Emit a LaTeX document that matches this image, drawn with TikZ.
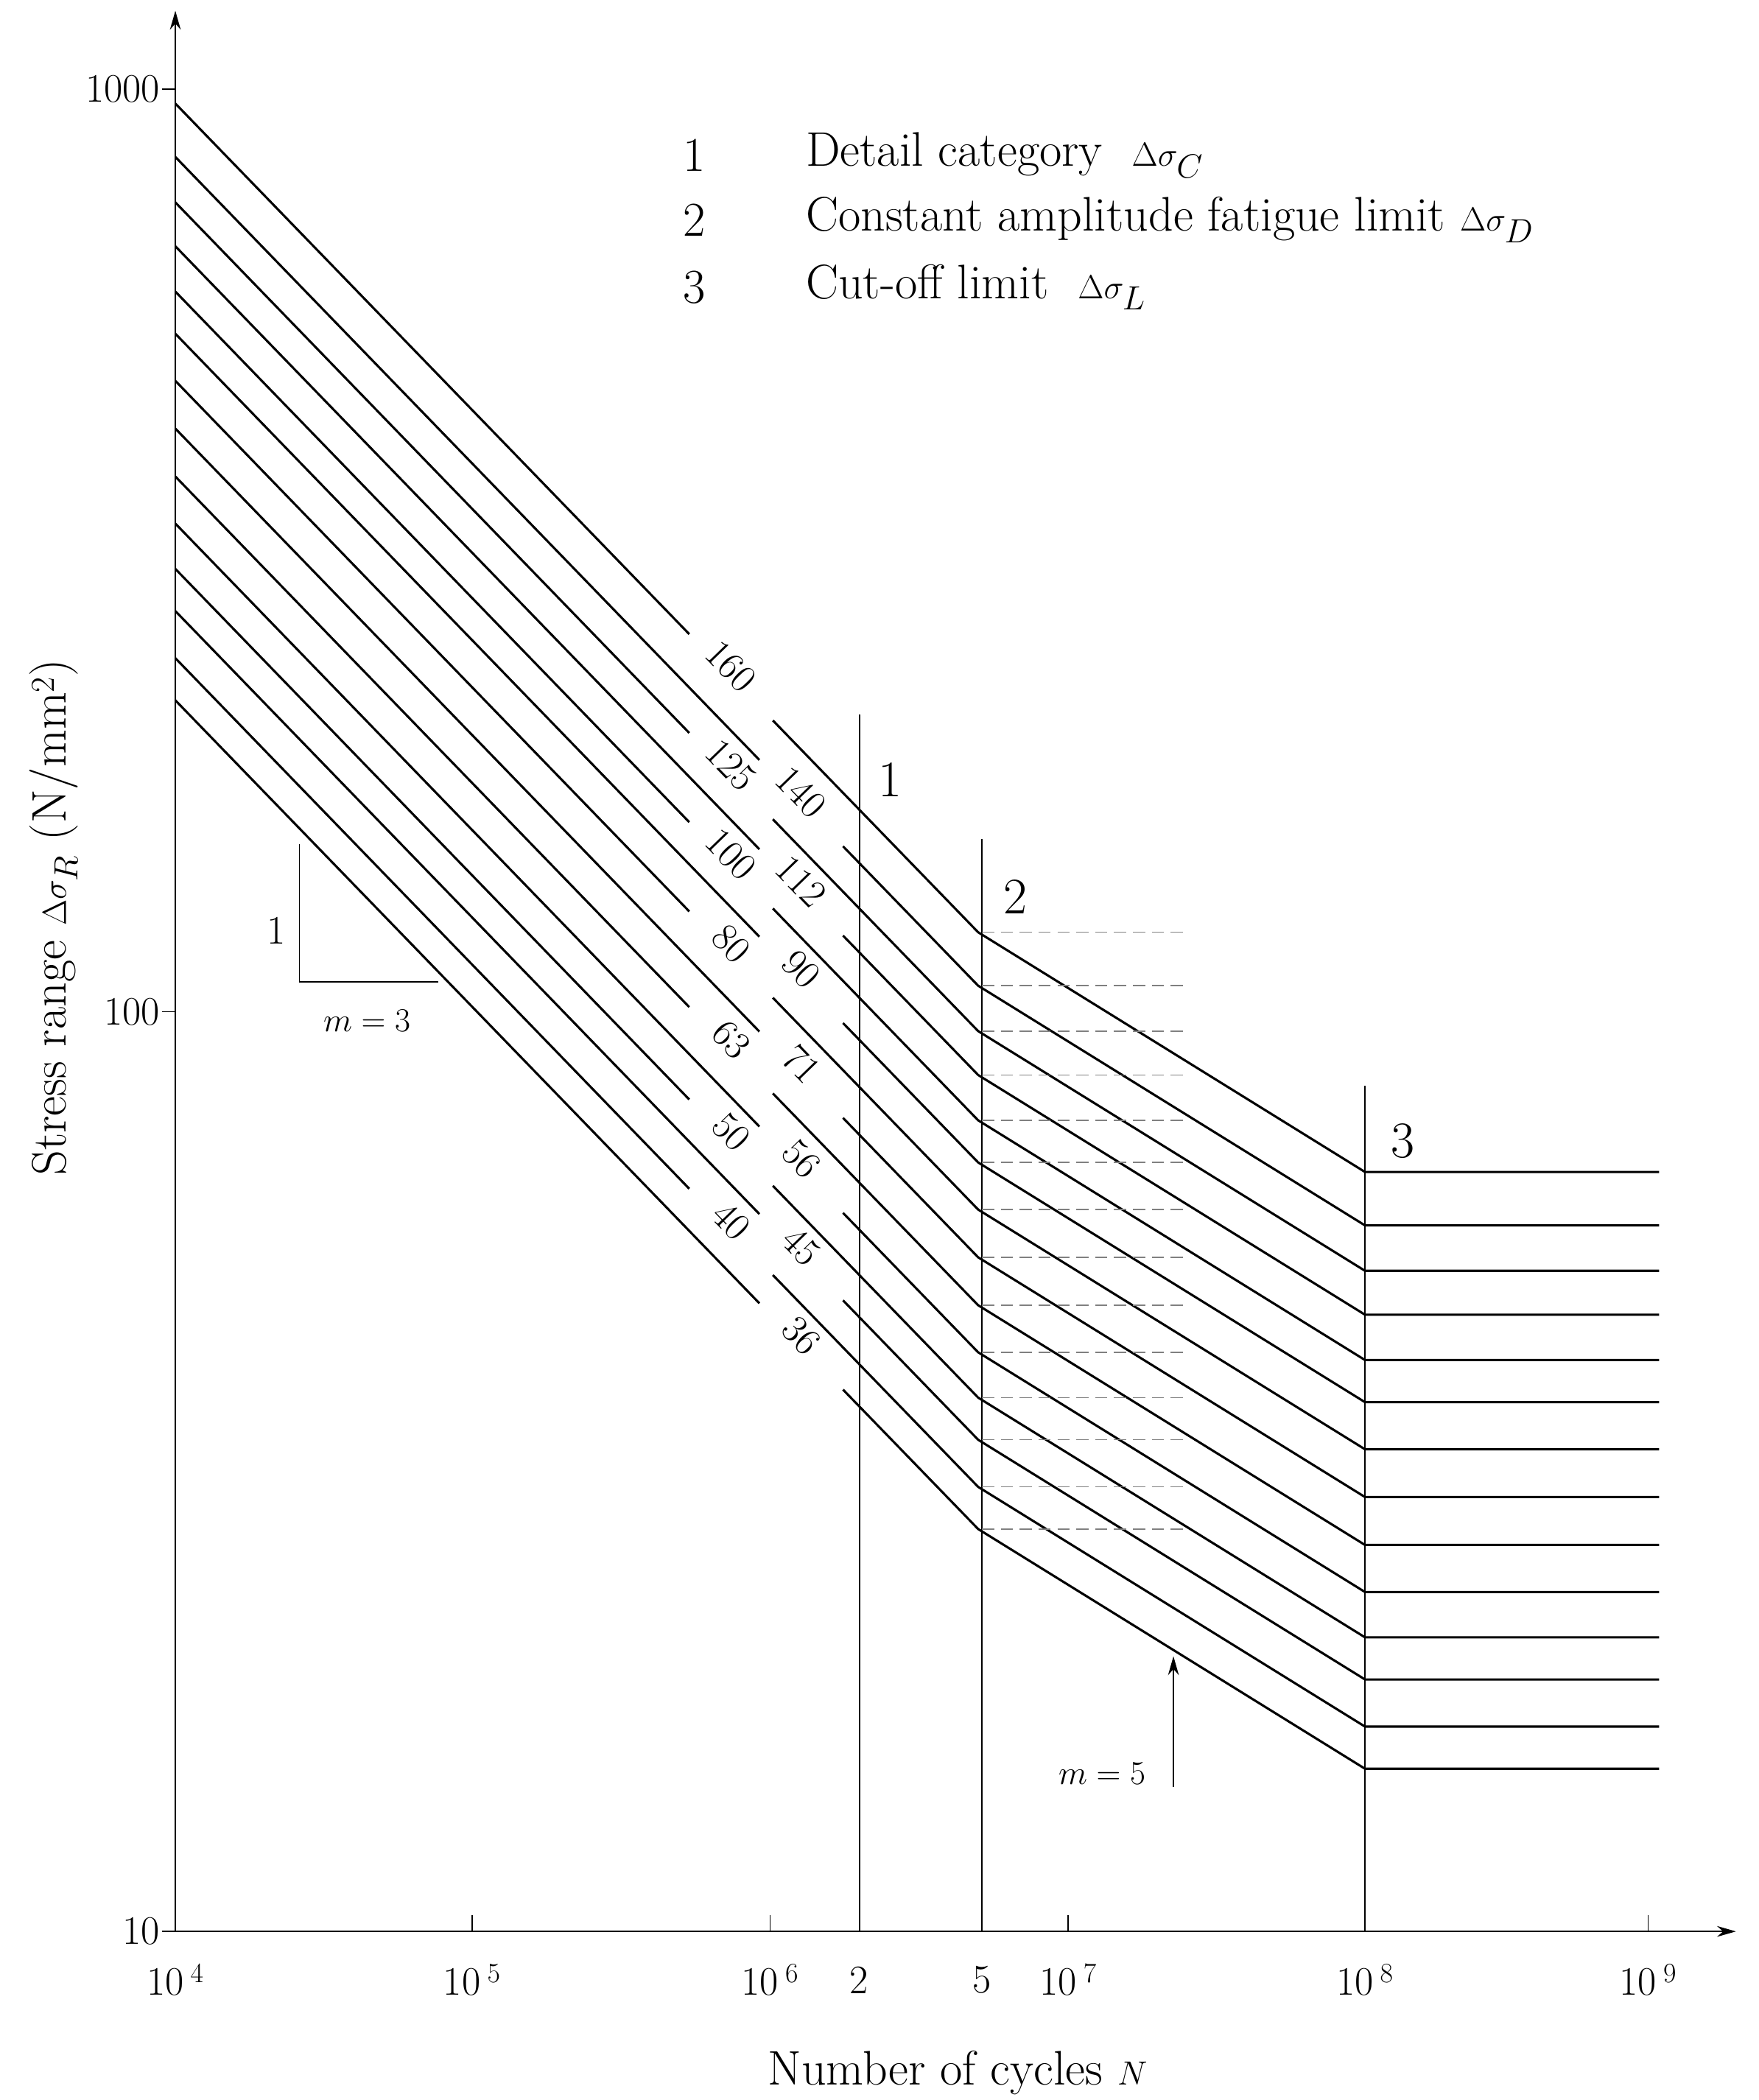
\documentclass[tikz,border=0pt]{standalone}
\usepackage{tikz}
\usetikzlibrary{arrows.meta}
\begin{document}
\begin{tikzpicture}[x=1pt,y=-1pt,
  thick line/.style={line width=1.7pt},
  thin line/.style={line width=0.9pt},
  txt/.style={font=\fontsize{30}{36}\selectfont},
  lgd/.style={font=\fontsize{36}{42}\selectfont},
  big/.style={font=\fontsize{38}{44}\selectfont},
  cat/.style={font=\fontsize{29}{34}\selectfont, rotate=-45.9, inner sep=0pt}]
\useasboundingbox (0,0) rectangle (1304,1557);
% axes
\draw[thin line,-{Stealth[length=14pt,width=8pt]}] (130,1432) -- (130,8);
\draw[thin line,-{Stealth[length=14pt,width=8pt]}] (130,1432) -- (1287,1432);
\foreach \yy/\lab in {66/1000,750/100,1432/10}{
  \draw[thin line] (120,\yy) -- (130,\yy);
  \node[txt,anchor=east] (yl\lab) at (122,\yy) {\lab};
}
\foreach \xx/\ee in {130/4,350/5,571/6,792/7,1012/8,1222/9}{
  \draw[thin line] (\xx,1420) -- (\xx,1432);
  \node[txt] (xl\ee) at (\xx,1468) {10\,$^{\ee}$};
}
\node[txt] (x2) at (637,1468) {2};
\node[txt] (x5) at (728,1468) {5};
\node[lgd] (xlab) at (710,1537) {Number of cycles $N$};
\node[lgd,rotate=90] (ylab) at (40,680) {Stress range $\Delta\sigma_R$ (N/mm$^2$)};
% vertical limits
\draw[thin line] (637.4,530) -- (637.4,1432);
\draw[thin line] (728,622) -- (728,1432);
\draw[thin line] (1012,805) -- (1012,1432);
\node[big] (n1) at (660,578) {1};
\node[big] (n2) at (753,665) {2};
\node[big] (n3) at (1040,846) {3};
% curves
\foreach \c [count=\i] in {160,140,125,112,100,90,80,71,63,56,50,45,40,36}{
  \pgfmathsetmacro\lc{log10(\c)}
  \pgfmathsetmacro\ya{740-683*(\lc+0.76699-2)}
  \pgfmathsetmacro\yb{740-683*(\lc-2)}
  \pgfmathsetmacro\yc{740-683*(\lc-0.13265-2)}
  \pgfmathsetmacro\yd{740-683*(\lc-0.39285-2)}
  \pgfmathsetmacro\xl{mod(\i,2)==1 ? 542 : 594}
  \pgfmathsetmacro\yl{\ya+1.0325*(\xl-130)-8}
  \draw[thick line] (130,\ya) -- (\xl-31,\yl-32+8);
  \draw[thick line,line join=round] (\xl+31,\yl+32+8) -- (637.4,\yb) -- (725.2,\yc) -- (1012,\yd) -- (1230,\yd);
  \draw[thin line,dashed,dash pattern=on 9pt off 5pt,gray] (728,\yc) -- (878,\yc);
  \node[cat] (c\c) at (\xl,\yl) {\c};
}
% slope triangle
\draw[thin line] (222,626) -- (222,728) -- (325,728);
\node[txt] (s1) at (205,690) {1};
\node[txt] (m3) at (272,757) {$m=3$};
% m=5 arrow
\coordinate (a0) at (870,1325);
\coordinate (a1) at (870,1228);
\draw[thin line,-{Stealth[length=14pt,width=8pt]}] (a0) -- (a1);
\node[txt] (m5) at (817,1315) {$m=5$};
% legend
\node[lgd] (k1) at (515,115) {1};
\node[lgd] (k2) at (515,163) {2};
\node[lgd] (k3) at (515,213) {3};
\node[lgd,anchor=west] (t1) at (594,115) {Detail category \ $\Delta\sigma_C$};
\node[lgd,anchor=west] (t2) at (594,163) {Constant amplitude fatigue limit $\Delta\sigma_D$};
\node[lgd,anchor=west] (t3) at (594,213) {Cut-off limit \ $\Delta\sigma_L$};
\end{tikzpicture}
\end{document}
